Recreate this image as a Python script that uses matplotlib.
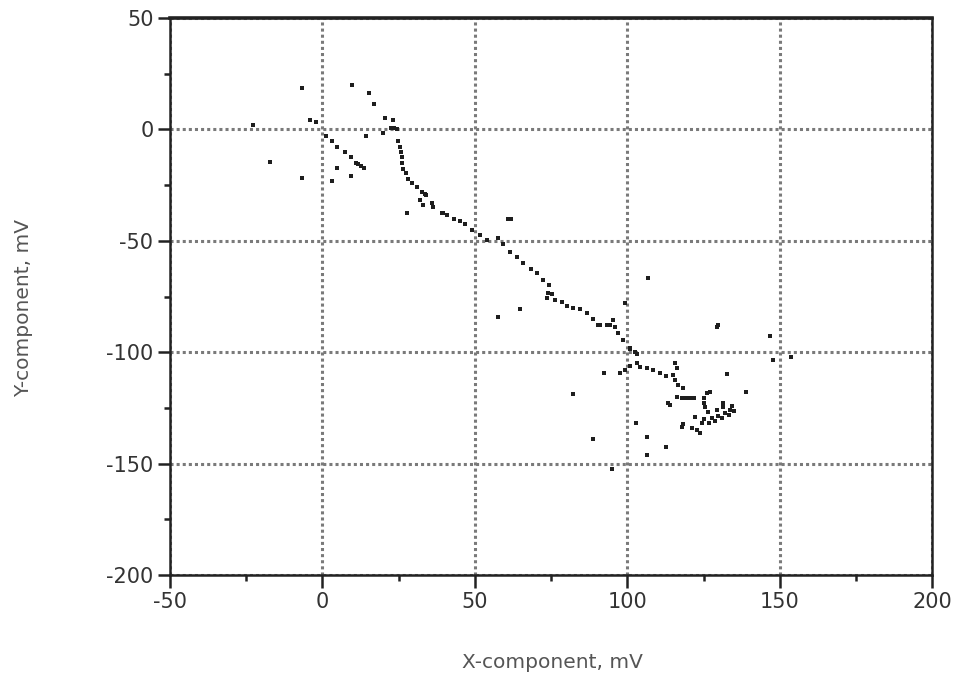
import matplotlib
matplotlib.use("Agg")
import matplotlib.pyplot as plt
from matplotlib.ticker import MultipleLocator

plt.rcParams["axes.unicode_minus"] = False
plt.rcParams["font.family"] = ["DejaVu Sans"]

# Data (X-component, Y-component in mV)
x_vals = [
    -6.8, -22.7, -17.2, -6.6, -4.1, -2.2, 9.8, 15.2, 16.9, 20.4, 23.3, 19.8, 14.4,
    22.5, 23.5, 24.5,
    1.2, 3.0, 4.7, 7.5, 9.2, 10.9, 11.8, 12.6, 13.6, 4.7, 9.2, 3.0,
    24.9, 25.5, 25.8, 26.0, 26.1, 26.5, 27.3, 28.0, 29.3, 30.9, 32.6, 34.0, 32.0,
    32.9, 35.9, 36.4, 39.7, 43.0, 27.7,
    33.7, 39.1, 40.8, 45.1, 46.8, 49.0, 51.7, 53.9, 57.5, 59.3, 61.5, 63.7, 65.9,
    68.3, 70.3, 72.5, 74.4, 74.1, 75.2, 73.6, 76.3, 78.5, 80.1, 82.3, 84.5, 86.7,
    88.9, 90.5, 91.1, 93.3, 94.4, 95.4, 96.0, 97.1, 98.7, 100.9, 101.0, 102.6, 103.3,
    60.8, 62.0, 57.7, 64.8, 106.9, 99.3,
    103.1, 101.0, 104.2, 106.4, 108.5, 110.7, 112.7, 115.6, 116.2, 115.1, 115.6,
    116.7, 118.4, 116.2, 117.8, 119.2, 120.5, 121.8, 125.0, 125.0, 125.5, 126.1,
    127.2, 113.5, 114.0,
    131.5, 134.3, 122.3, 125.0, 127.7, 129.9, 132.1, 133.7, 124.5, 126.7, 128.9,
    131.1, 133.3, 134.9, 121.2, 122.8, 123.9, 118.4, 117.9, 126.6, 129.3, 131.5,
    92.2, 97.6, 99.3, 82.3, 132.6, 138.9, 129.3, 129.9, 146.8, 147.7, 153.7,
    102.9, 106.4, 112.7, 106.4, 88.9, 94.9,
]
y_vals = [
    18.7, 2.0, -14.8, -21.9, 4.2, 3.2, 19.8, 16.2, 11.4, 5.3, 4.1, -1.8, -3.0,
    0.5, 0.5, 0.3,
    -2.8, -5.2, -7.8, -10.0, -12.5, -14.9, -15.7, -16.4, -17.5, -17.2, -20.8, -23.2,
    -5.2, -7.8, -10.0, -12.5, -14.9, -17.8, -19.7, -22.3, -24.2, -26.0, -28.0, -29.4,
    -31.7, -33.9, -33.2, -35.0, -37.7, -40.2, -37.7,
    -29.0, -37.7, -38.4, -41.0, -42.6, -45.2, -47.4, -49.6, -48.6, -51.3, -54.9,
    -57.1, -60.1, -62.8, -64.6, -67.6, -69.8, -73.3, -73.9, -75.8, -76.6, -77.3,
    -79.3, -80.3, -80.7, -82.5, -85.2, -87.8, -87.8, -87.8, -87.8, -85.6, -88.6,
    -91.5, -94.5, -98.2, -98.7, -100.0, -100.6,
    -40.2, -40.2, -84.0, -80.7, -66.5, -78.1,
    -104.7, -106.2, -106.8, -107.2, -108.0, -109.5, -110.7, -104.7, -107.2,
    -110.2, -112.4, -114.7, -116.2, -120.2, -120.5, -120.5, -120.6, -120.6,
    -120.7, -122.9, -124.5, -118.5, -117.8, -122.7, -123.7,
    -122.9, -124.1, -128.9, -130.1, -129.7, -128.6, -127.1, -125.9, -131.6,
    -131.6, -130.8, -129.7, -128.3, -126.3, -134.1, -134.8, -136.4, -132.2,
    -133.4, -126.7, -125.9, -124.4,
    -109.2, -109.2, -108.0, -118.9, -109.8, -117.9, -88.6, -87.8, -92.6, -103.4,
    -102.3, -131.9, -137.9, -142.7, -146.1, -139.1, -152.3,
]

x_ticks = [-50, 0, 50, 100, 150, 200]
y_ticks = [-200, -150, -100, -50, 0, 50]
x_label = "X-component, mV"
y_label = "Y-component, mV"

fig = plt.figure(figsize=(9.58, 6.85), dpi=100)
ax = fig.add_axes([0.1775, 0.1606, 0.7955, 0.8131])

ax.scatter(x_vals, y_vals, s=8, marker="s", color="#1e1e1e", linewidths=0, zorder=3)

ax.set_xlim(-50, 200)
ax.set_ylim(-200, 50)
ax.set_xticks(x_ticks)
ax.set_yticks(y_ticks)
ax.xaxis.set_minor_locator(MultipleLocator(25))
ax.yaxis.set_minor_locator(MultipleLocator(25))
ax.tick_params(which="major", direction="out", length=9, width=1.8,
               labelsize=15, colors="#222222", pad=3)
ax.tick_params(which="minor", direction="out", length=4.5, width=1.8,
               colors="#222222")
for lab in ax.get_xticklabels() + ax.get_yticklabels():
    lab.set_color("#333333")

ax.grid(True, which="major", color="#7a7a7a", linestyle=(0, (1, 1)),
        linewidth=2.2, zorder=1)
for sp in ax.spines.values():
    sp.set_color("#222222")
    sp.set_linewidth(1.8)
ax.spines["top"].set_linewidth(2.6)

fig.text(552 / 958, 1 - 663 / 685, x_label, fontsize=14.5, color="#555555",
         ha="center", va="center")
fig.text(24 / 958, 1 - 308 / 685, y_label, fontsize=14.5, color="#555555",
         ha="center", va="center", rotation=90)

fig.savefig("out.png", dpi=100, facecolor="white")
